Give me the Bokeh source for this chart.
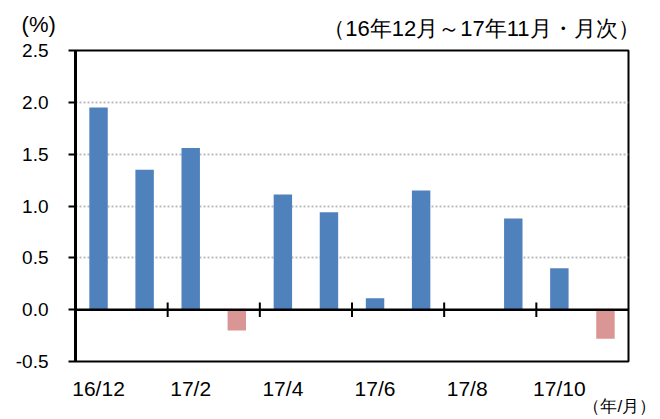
from bokeh.plotting import figure
from bokeh.models import Range1d, FixedTicker, Span, Label
from bokeh.embed import file_html
from bokeh.resources import INLINE

months = ["16/12", "17/1", "17/2", "17/3", "17/4", "17/5",
          "17/6", "17/7", "17/8", "17/9", "17/10", "17/11"]
values = [1.95, 1.35, 1.56, -0.20, 1.11, 0.94, 0.11, 1.15, 0.0, 0.88, 0.40, -0.28]
y_ticks = [-0.5, 0.0, 0.5, 1.0, 1.5, 2.0, 2.5]
unit_text = "(%)"
title_text = "（16年12月～17年11月・月次）"
x_unit_text = "（年/月）"

BLUE = "#4F81BD"
PINK = "#D99694"

n = len(months)
centers = [i + 0.5 for i in range(n)]
colors = [BLUE if v >= 0 else PINK for v in values]

p = figure(width=660, height=419, frame_width=553, frame_height=311,
           x_range=Range1d(0, n), y_range=Range1d(-0.5, 2.5),
           output_backend="svg", toolbar_location=None,
           min_border_left=75, min_border_right=32,
           min_border_top=50, min_border_bottom=58)
p.title.visible = False
p.background_fill_color = "white"
p.border_fill_color = "white"
p.outline_line_color = "black"
p.outline_line_width = 2

# grid
p.xgrid.visible = False
p.ygrid.ticker = FixedTicker(ticks=[0.5, 1.0, 1.5, 2.0])
p.ygrid.grid_line_color = "#BBBBBB"
p.ygrid.grid_line_width = 2
p.ygrid.grid_line_dash = "2 2"

# y axis
p.yaxis.ticker = FixedTicker(ticks=y_ticks)
p.yaxis.major_label_overrides = {t: f"{t:.1f}" for t in y_ticks}
p.yaxis.axis_line_width = 3
p.yaxis.axis_line_color = "black"
p.yaxis.major_tick_out = 7
p.yaxis.major_tick_in = 0
p.yaxis.major_tick_line_width = 2
p.yaxis.minor_tick_line_color = None
p.yaxis.major_label_standoff = 20
p.yaxis.major_label_text_font = "Liberation Sans"
p.yaxis.major_label_text_font_size = "19px"
p.yaxis.major_label_text_color = "black"

# x axis
label_pos = centers[::2]
p.xaxis.ticker = FixedTicker(ticks=label_pos)
p.xaxis.major_label_overrides = {c: m for c, m in zip(label_pos, months[::2])}
p.xaxis.axis_line_color = None
p.xaxis.major_tick_line_color = None
p.xaxis.minor_tick_line_color = None
p.xaxis.major_tick_out = 0
p.xaxis.major_tick_in = 0
p.xaxis.major_label_standoff = 15
p.xaxis.major_label_text_font = "Liberation Sans"
p.xaxis.major_label_text_font_size = "21px"
p.xaxis.major_label_text_color = "black"

# bars
p.vbar(x=centers, top=values, bottom=0, width=0.4, fill_color=colors, line_color=None)

# zero line and its tick marks at every second category boundary
p.add_layout(Span(location=0, dimension="width", line_color="black", line_width=2.5))
bounds = list(range(2, n, 2))
p.segment(x0=bounds, x1=bounds, y0=[-0.07] * len(bounds), y1=[0.07] * len(bounds),
          line_color="black", line_width=2)

# texts outside the frame: placed in side panels (not clipped), positioned in data units
p.add_layout(Label(x=-1.17, y=2.75, text=unit_text, text_align="left", text_baseline="middle",
                   text_font="Liberation Sans", text_font_size="22px", text_color="black"),
             "above")
p.add_layout(Label(x=12.24, y=2.712, text=title_text, text_align="right", text_baseline="middle",
                   text_font="Liberation Sans", text_font_size="22px", text_color="black"),
             "above")
p.add_layout(Label(x=12.6, y=-0.935, text=x_unit_text, text_align="right",
                   text_baseline="middle", text_font="Liberation Sans",
                   text_font_size="17px", text_color="black"),
             "below")

open("out.html", "w").write(file_html(p, INLINE))
